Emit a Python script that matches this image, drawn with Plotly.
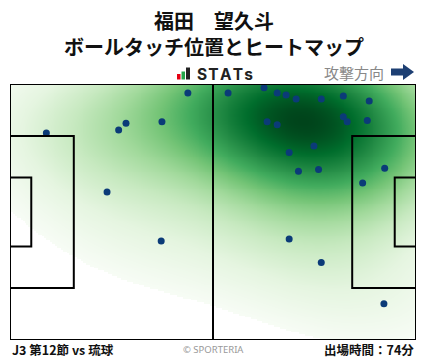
import numpy as np
import plotly.graph_objects as go

# Pitch dimensions (m)
PITCH_L = 105
PITCH_W = 68

# Ball touch positions (x along attack direction, y from bottom), metres
touch_x = [9.4, 28.1, 30.0, 39.3, 46.0, 25.1, 39.1,
           56.4, 65.7, 69.1, 71.4, 74.0, 80.5, 86.2, 92.9,
           66.5, 69.1, 86.2, 87.2, 92.4, 78.6, 72.2, 74.6, 79.8, 96.9, 91.2,
           72.2, 80.5, 96.7]
touch_y = [55.0, 55.8, 57.6, 58.0, 65.6, 39.3, 26.3,
           65.6, 67.0, 65.6, 65.1, 64.0, 64.0, 64.8, 63.5,
           58.0, 57.2, 59.3, 58.0, 58.3, 51.5, 49.8, 44.8, 45.3, 45.6, 41.7,
           26.8, 20.6, 9.6]

title_lines = ["福田　望久斗", "ボールタッチ位置とヒートマップ"]
footer_left = "J3 第12節 vs 琉球"
footer_right = "出場時間：74分"
footer_center = "© SPORTERIA"
logo_text = "STATs"
direction_text = "攻撃方向"

FONT = "Noto Sans CJK JP"

# --- KDE (Gaussian) ---
pts = np.vstack([np.array(touch_x, float), np.array(touch_y, float)])
n = pts.shape[1]
factor = n ** (-1.0 / 6.0)
cov = np.cov(pts) * factor ** 2 * 2.4
inv = np.linalg.inv(cov)
gx = np.linspace(0, PITCH_L, 211)
gy = np.linspace(0, PITCH_W, 137)
GX, GY = np.meshgrid(gx, gy)
z = np.zeros_like(GX)
for i in range(n):
    dx = GX - pts[0, i]
    dy = GY - pts[1, i]
    z += np.exp(-0.5 * (inv[0, 0] * dx * dx + 2 * inv[0, 1] * dx * dy + inv[1, 1] * dy * dy))
z = z / z.max()
thresh = 0.07
z = np.where(z < thresh, np.nan, z ** 0.9)

greens = [[0.0, "#f7fcf5"], [0.125, "#e5f5e0"], [0.25, "#c7e9c0"], [0.375, "#a1d99b"],
          [0.5, "#74c476"], [0.625, "#41ab5d"], [0.75, "#238b45"], [0.875, "#006d2c"],
          [1.0, "#00441b"]]

fig = go.Figure()
fig.add_trace(go.Heatmap(x=gx, y=gy, z=z, colorscale=greens, zmin=thresh ** 0.9, zmax=1,
                         zsmooth="best", showscale=False, hoverinfo="skip"))
fig.add_trace(go.Scatter(x=touch_x, y=touch_y, mode="markers",
                         marker=dict(size=7, color="#0b3b78"), hoverinfo="skip"))

line = dict(color="black", width=2)
shapes = [
    dict(type="rect", x0=0, x1=PITCH_L, y0=0, y1=PITCH_W, line=line),
    dict(type="line", x0=PITCH_L / 2, x1=PITCH_L / 2, y0=0, y1=PITCH_W, line=line),
    dict(type="rect", x0=0, x1=16.5, y0=PITCH_W / 2 - 20.16, y1=PITCH_W / 2 + 20.16, line=line),
    dict(type="rect", x0=0, x1=5.5, y0=PITCH_W / 2 - 9.16, y1=PITCH_W / 2 + 9.16, line=line),
    dict(type="rect", x0=PITCH_L - 16.5, x1=PITCH_L, y0=PITCH_W / 2 - 20.16, y1=PITCH_W / 2 + 20.16, line=line),
    dict(type="rect", x0=PITCH_L - 5.5, x1=PITCH_L, y0=PITCH_W / 2 - 9.16, y1=PITCH_W / 2 + 9.16, line=line),
]

# pixel -> paper helpers (plot area: x 10..416, y 84..340)
def px(xp):
    return (xp - 10) / 406.0

def py(yp):
    return (340 - yp) / 256.0

# STATs icon bars
for x0, x1, y0, col in [(177, 180.5, 74, "#e60012"), (181.5, 185, 71.5, "#22a548"), (186, 190, 67.5, "#222222")]:
    shapes.append(dict(type="rect", xref="paper", yref="paper", x0=px(x0), x1=px(x1),
                       y0=py(79.5), y1=py(y0), fillcolor=col, line=dict(width=0)))
# attack direction arrow
arrow_path = "M {a},{b} L {c},{b} L {c},{d} L {e},{f} L {c},{g} L {c},{h} L {a},{h} Z".format(
    a=px(391), b=py(68.5), c=px(403), d=py(64), e=px(414), f=py(72), g=py(80), h=py(75.5))
shapes.append(dict(type="path", xref="paper", yref="paper", path=arrow_path,
                   fillcolor="#1d3f73", line=dict(width=0)))

hair = "\u200a"
annotations = [
    dict(text="<b>%s</b><br><b>%s</b>" % (title_lines[0], title_lines[1]), x=px(214), xref="paper",
         y=py(33), yref="paper", showarrow=False, align="center",
         font=dict(family=FONT, size=20, color="#111"), xanchor="center", yanchor="middle"),
    dict(text="<b>%s</b>" % hair.join(logo_text), x=px(195), xref="paper", y=py(74), yref="paper", xanchor="left",
         yanchor="middle", showarrow=False, font=dict(family="Inter", size=15.5, color="#222")),
    dict(text=direction_text, x=px(386), xref="paper", y=py(72), yref="paper", xanchor="right",
         yanchor="middle", showarrow=False, font=dict(family=FONT, size=15, color="#888")),
    dict(text="<b>%s</b>" % footer_left, x=0, xref="paper", y=py(349.5), yref="paper", xanchor="left",
         yanchor="middle", showarrow=False, font=dict(family=FONT, size=12.5, color="#111")),
    dict(text="<b>%s</b>" % footer_right, x=1, xref="paper", y=py(349.5), yref="paper", xanchor="right",
         yanchor="middle", showarrow=False, font=dict(family=FONT, size=12.5, color="#111")),
    dict(text=footer_center, x=px(213), xref="paper", y=py(349), yref="paper", xanchor="center",
         yanchor="middle", showarrow=False, font=dict(family="Noto Sans", size=9.5, color="#999")),
]

fig.update_layout(
    width=428, height=359,
    margin=dict(l=10, r=12, t=84, b=19, pad=0),
    paper_bgcolor="white", plot_bgcolor="white",
    xaxis=dict(range=[0, PITCH_L], visible=False, fixedrange=True),
    yaxis=dict(range=[0, PITCH_W], visible=False, fixedrange=True),
    shapes=shapes, annotations=annotations, showlegend=False,
)
fig.write_html("out.html")
